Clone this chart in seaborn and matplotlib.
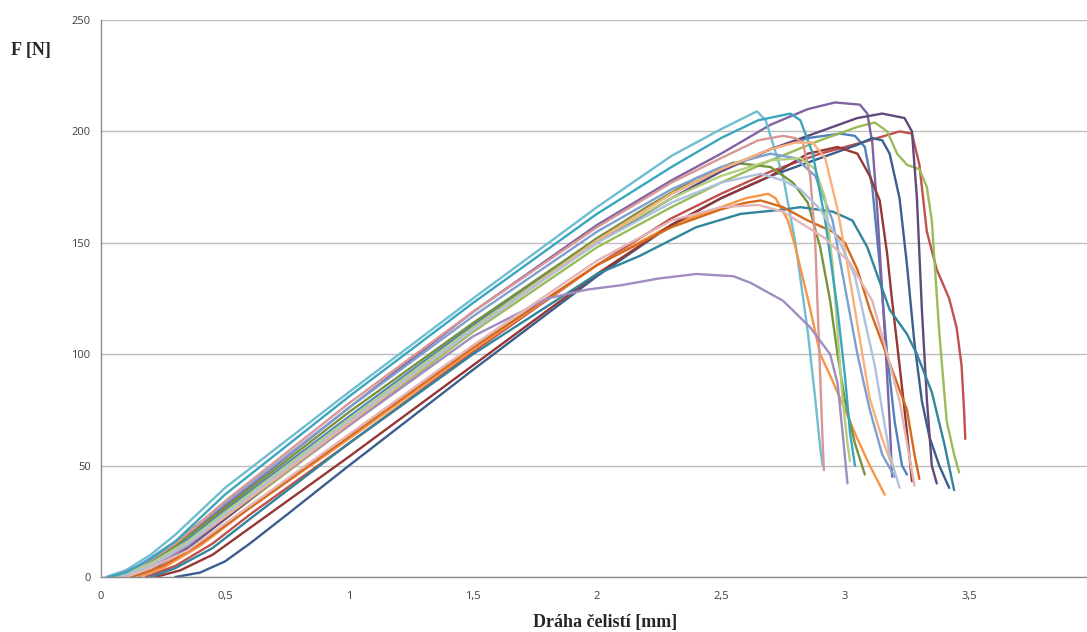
import matplotlib
matplotlib.use("Agg")
import matplotlib.pyplot as plt
import seaborn as sns
import pandas as pd

# x = jaw travel [mm], y = force [N]
aqua_x = [0.02, 0.1, 0.2, 0.3, 0.5, 1.0, 1.5, 2.0, 2.3, 2.5, 2.645, 2.68, 2.75, 2.8, 2.85, 2.88, 2.9, 2.91]
aqua_y = [0, 3, 10, 19, 40, 83, 125, 166, 189, 201, 209, 205, 180, 150, 110, 80, 58, 50]

teal_x = [0.03, 0.1, 0.2, 0.3, 0.5, 1.0, 1.5, 2.0, 2.3, 2.5, 2.65, 2.78, 2.82, 2.87, 2.92, 2.97, 3.0, 3.02, 3.04]
teal_y = [0, 2, 8, 16, 37, 81, 123, 163, 184, 197, 205, 208, 205, 190, 160, 120, 90, 65, 50]

purple_x = [0.05, 0.15, 0.3, 0.5, 1.0, 1.5, 2.0, 2.3, 2.5, 2.7, 2.85, 2.96, 3.06, 3.09, 3.11, 3.13, 3.16, 3.18, 3.19]
purple_y = [0, 4, 14, 32, 76, 119, 158, 178, 190, 203, 210, 213, 212, 208, 195, 165, 110, 70, 45]

dpurple_x = [0.12, 0.2, 0.35, 0.5, 1.0, 1.5, 2.0, 2.3, 2.5, 2.7, 2.9, 3.05, 3.15, 3.24, 3.27, 3.29, 3.31, 3.33, 3.35, 3.37]
dpurple_y = [0, 3, 13, 26, 70, 112, 150, 170, 182, 192, 200, 206, 208, 206, 200, 170, 120, 80, 50, 42]

green_x = [0.1, 0.2, 0.35, 0.5, 1.0, 1.5, 2.0, 2.3, 2.5, 2.7, 2.9, 3.05, 3.12, 3.17, 3.21, 3.25, 3.3, 3.33, 3.35, 3.38, 3.41, 3.44, 3.46]
green_y = [0, 4, 14, 26, 68, 110, 148, 166, 177, 187, 196, 202, 204, 200, 190, 185, 183, 175, 160, 110, 70, 55, 47]

red_x = [0.18, 0.3, 0.45, 0.6, 1.0, 1.5, 2.0, 2.3, 2.5, 2.7, 2.9, 3.1, 3.22, 3.27, 3.3, 3.33, 3.37, 3.42, 3.45, 3.47, 3.48, 3.485]
red_y = [0, 5, 15, 28, 60, 101, 140, 161, 172, 182, 190, 196, 200, 199, 185, 155, 138, 125, 112, 95, 75, 62]

blue_x = [0.08, 0.2, 0.35, 0.5, 1.0, 1.5, 2.0, 2.3, 2.5, 2.7, 2.85, 2.98, 3.04, 3.08, 3.11, 3.14, 3.17, 3.2, 3.23, 3.25]
blue_y = [0, 6, 17, 30, 72, 113, 152, 172, 183, 192, 197, 199, 198, 193, 175, 140, 100, 70, 50, 46]

dblue_x = [0.3, 0.4, 0.5, 0.6, 0.75, 0.92, 1.0, 1.5, 2.0, 2.3, 2.5, 2.7, 2.9, 3.05, 3.11, 3.15, 3.18, 3.22, 3.25, 3.28, 3.31, 3.34, 3.38, 3.42]
dblue_y = [0, 2, 7, 15, 28, 43, 50, 93, 135, 158, 170, 180, 188, 194, 197, 196, 190, 170, 140, 105, 79, 63, 50, 40]

dred_x = [0.22, 0.32, 0.45, 0.6, 1.0, 1.5, 2.0, 2.3, 2.5, 2.7, 2.85, 2.97, 3.05, 3.1, 3.14, 3.17, 3.19, 3.22, 3.25, 3.27]
dred_y = [0, 3, 10, 22, 54, 95, 136, 158, 170, 180, 190, 193, 190, 180, 169, 145, 124, 95, 65, 43]

lorange_x = [0.1, 0.2, 0.35, 0.5, 1.0, 1.5, 2.0, 2.3, 2.5, 2.7, 2.8, 2.87, 2.92, 2.97, 3.01, 3.04, 3.07, 3.1, 3.15, 3.19]
lorange_y = [0, 5, 15, 27, 69, 111, 151, 172, 183, 192, 195, 195, 188, 165, 140, 120, 100, 80, 62, 50]

olive_x = [0.06, 0.15, 0.3, 0.5, 1.0, 1.5, 2.0, 2.2, 2.4, 2.55, 2.7, 2.79, 2.85, 2.9, 2.94, 2.97, 3.0, 3.04, 3.08]
olive_y = [0, 4, 14, 31, 74, 114, 152, 166, 179, 186, 184, 177, 168, 148, 124, 100, 79, 60, 46]

orange_x = [0.15, 0.25, 0.4, 0.6, 1.0, 1.5, 2.0, 2.3, 2.5, 2.6, 2.69, 2.72, 2.77, 2.8, 2.85, 2.9, 2.95, 3.0, 3.05, 3.1, 3.16]
orange_y = [0, 4, 14, 31, 62, 102, 140, 158, 166, 170, 172, 170, 160, 148, 125, 100, 88, 75, 62, 50, 37]

dorange_x = [0.12, 0.25, 0.4, 0.6, 1.0, 1.5, 2.0, 2.3, 2.5, 2.6, 2.66, 2.75, 2.85, 2.95, 3.0, 3.05, 3.1, 3.15, 3.2, 3.25, 3.28, 3.3]
dorange_y = [0, 5, 15, 31, 63, 103, 140, 157, 165, 168, 169, 166, 160, 155, 150, 138, 120, 105, 90, 75, 55, 44]

pink_x = [0.1, 0.2, 0.35, 0.5, 1.0, 1.5, 2.0, 2.3, 2.5, 2.65, 2.75, 2.82, 2.92, 3.02, 3.11, 3.17, 3.22, 3.25, 3.28]
pink_y = [0, 4, 12, 24, 64, 104, 142, 160, 166, 167, 164, 159, 152, 141, 124, 100, 79, 60, 41]

dteal_x = [0.2, 0.3, 0.45, 0.6, 1.0, 1.5, 2.0, 2.17, 2.4, 2.58, 2.76, 2.82, 2.95, 3.03, 3.09, 3.18, 3.25, 3.29, 3.35, 3.4, 3.44]
dteal_y = [0, 4, 13, 26, 60, 100, 136, 144, 157, 163, 165, 166, 164, 160, 148, 120, 109, 100, 83, 60, 39]

lavender_x = [0.1, 0.2, 0.35, 0.5, 1.0, 1.5, 1.8, 1.96, 2.1, 2.25, 2.4, 2.55, 2.62, 2.75, 2.86, 2.94, 2.97, 2.99, 3.01]
lavender_y = [0, 4, 14, 27, 68, 108, 125, 129, 131, 134, 136, 135, 132, 124, 112, 100, 87, 65, 42]

greyblue_x = [0.08, 0.2, 0.35, 0.5, 1.0, 1.5, 2.0, 2.3, 2.5, 2.66, 2.75, 2.82, 2.9, 2.98, 3.04, 3.08, 3.12, 3.15, 3.18, 3.22]
greyblue_y = [0, 5, 15, 28, 70, 111, 150, 168, 177, 181, 178, 174, 165, 150, 135, 115, 95, 75, 55, 40]

salmon_x = [0.05, 0.15, 0.3, 0.5, 1.0, 1.5, 2.0, 2.3, 2.5, 2.65, 2.75, 2.8, 2.83, 2.86, 2.88, 2.89, 2.9, 2.91, 2.915]
salmon_y = [0, 4, 15, 34, 78, 119, 157, 177, 188, 196, 198, 197, 195, 180, 150, 120, 90, 60, 48]

periwinkle_x = [0.04, 0.15, 0.3, 0.5, 1.0, 1.5, 2.0, 2.3, 2.5, 2.7, 2.8, 2.88, 2.95, 3.0, 3.05, 3.1, 3.15, 3.2]
periwinkle_y = [0, 5, 16, 33, 76, 117, 155, 174, 184, 190, 188, 180, 160, 130, 100, 75, 55, 45]

lgreen_x = [0.07, 0.2, 0.35, 0.5, 1.0, 1.5, 2.0, 2.3, 2.5, 2.7, 2.82, 2.88, 2.92, 2.95, 2.97, 2.99, 3.01, 3.02]
lgreen_y = [0, 6, 16, 29, 71, 112, 151, 170, 180, 187, 188, 183, 170, 140, 110, 80, 60, 52]

series = [
    ("blue", blue_x, blue_y, "#4F81BD"),
    ("red", red_x, red_y, "#C0504D"),
    ("green", green_x, green_y, "#9BBB59"),
    ("purple", purple_x, purple_y, "#8064A2"),
    ("aqua", aqua_x, aqua_y, "#6FBDD1"),
    ("orange", orange_x, orange_y, "#F79646"),
    ("dblue", dblue_x, dblue_y, "#3A5F8F"),
    ("dred", dred_x, dred_y, "#953735"),
    ("olive", olive_x, olive_y, "#77933C"),
    ("dpurple", dpurple_x, dpurple_y, "#604A7B"),
    ("dteal", dteal_x, dteal_y, "#31859C"),
    ("dorange", dorange_x, dorange_y, "#D46A1E"),
    ("periwinkle", periwinkle_x, periwinkle_y, "#7F9FD0"),
    ("salmon", salmon_x, salmon_y, "#D99694"),
    ("lgreen", lgreen_x, lgreen_y, "#B3CF7E"),
    ("lavender", lavender_x, lavender_y, "#A08CC0"),
    ("teal", teal_x, teal_y, "#3AA6BE"),
    ("lorange", lorange_x, lorange_y, "#FAB07A"),
    ("greyblue", greyblue_x, greyblue_y, "#AFC1DD"),
    ("pink", pink_x, pink_y, "#E4B5B4"),
]

x_ticks = [0, 0.5, 1, 1.5, 2, 2.5, 3, 3.5]
x_tick_labels = ["0", "0,5", "1", "1,5", "2", "2,5", "3", "3,5"]
y_ticks = [0, 50, 100, 150, 200, 250]

frames = []
for name, xs, ys, _ in series:
    frames.append(pd.DataFrame({"x": xs, "y": ys, "sample": name, "order": range(len(xs))}))
df = pd.concat(frames, ignore_index=True)
palette = {name: col for name, _, _, col in series}

sns.set_style("white")
fig = plt.figure(figsize=(10.87, 6.32), dpi=100)
ax = fig.add_axes([101 / 1087, 55 / 632, 992 / 1087, 557 / 632])

sns.lineplot(data=df, x="x", y="y", hue="sample", units="sample", palette=palette,
             estimator=None, sort=False, linewidth=1.7, legend=False, ax=ax)

ax.set_xlim(0, 4)
ax.set_ylim(0, 250)
ax.set_xticks(x_ticks)
ax.set_xticklabels(x_tick_labels)
ax.set_yticks(y_ticks)
ax.yaxis.grid(True, color="#BEBEBE", linewidth=1.0)
ax.set_axisbelow(True)

for side in ["top", "right"]:
    ax.spines[side].set_visible(False)
for side in ["left", "bottom"]:
    ax.spines[side].set_color("#8C8C8C")
    ax.spines[side].set_linewidth(1.0)

ax.tick_params(axis="both", which="major", direction="out", length=4, width=1.0,
               color="#8C8C8C", labelsize=8, labelcolor="#404040")
ax.tick_params(axis="x", pad=6)
for lbl in ax.get_xticklabels() + ax.get_yticklabels():
    lbl.set_family(["Open Sans", "DejaVu Sans"])

ax.set_xlabel("")
ax.set_ylabel("")
fig.text(605 / 1087, 1 - 622 / 632, "Dráha čelistí [mm]", ha="center", va="center",
         fontsize=13, fontweight="bold", family=["Liberation Serif", "DejaVu Serif"])
fig.text(31 / 1087, 1 - 50 / 632, "F [N]", ha="center", va="center",
         fontsize=13, fontweight="bold", family=["Liberation Serif", "DejaVu Serif"])

fig.savefig("out.png", dpi=100)
